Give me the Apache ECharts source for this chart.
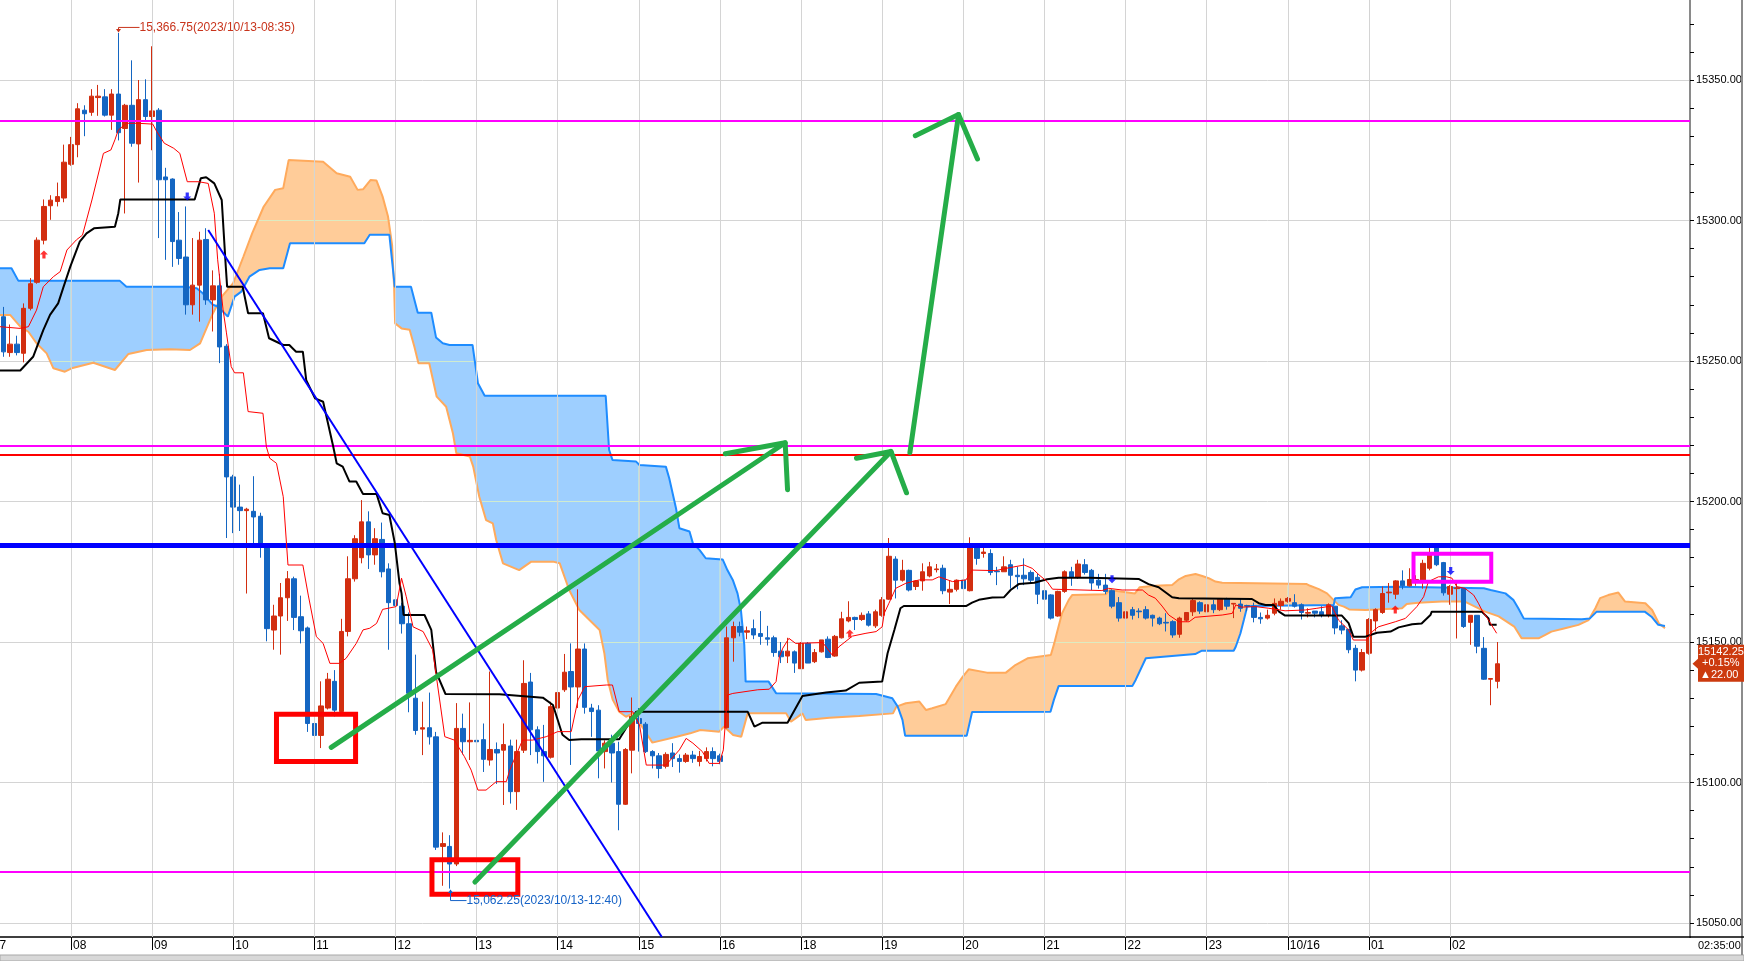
<!DOCTYPE html>
<html><head><meta charset="utf-8">
<script src="https://cdn.jsdelivr.net/npm/echarts@6/dist/echarts.min.js"></script>
<style>html,body{margin:0;padding:0;background:#fff;}#c{width:1744px;height:961px;}</style>
</head><body><div id="c"></div>
<script>
// ---------- axis / tick data ----------
const slotCount = 250;
const hourSlots  = [10,22,34,46,58,70,82,94,106,118,130,142,154,166,178,190,202,214];
const hourLabels = ['08','09','10','11','12','13','14','15','16','18','19','20','21','22','23','10/16','01','02'];
const prevHourSlot = -2, prevHourLabel = '07';
const lastTime = '02:35:00';

// ---------- 5-minute candles: [open, close, low, high] ----------
const candles = [
[15265.75,15253.25,15251.5,15269.25],[15253,15256,15251.5,15263],[15256,15253,15252,15259],[15252.75,15268.75,15249.5,15270.5],
[15268.75,15277.5,15268,15279.5],[15278,15293,15277.5,15294],[15293,15305,15291.5,15307.5],[15305.25,15307.25,15300.25,15309],
[15306.75,15308.5,15305,15313.5],[15308,15320.75,15306.5,15327],[15320,15327,15319.5,15329.75],[15327,15339.75,15322.5,15341.75],
[15339.25,15338,15330,15341],[15338.5,15344.25,15337.25,15346.75],[15343.75,15344.25,15337.25,15348.25],[15344,15337.5,15337,15346.75],
[15337.5,15345,15332.25,15346.75],[15345,15331.25,15328.5,15366.75],[15332.75,15341,15302.5,15341.5],[15341,15327.5,15326.25,15357],
[15327.25,15343,15313.5,15350],[15343,15337,15335.25,15350.25],[15337,15339,15325,15362],[15339.25,15314.5,15293.75,15340],
[15315.5,15314.5,15286,15318.75],[15314.75,15292.5,15283.5,15315],[15293,15286.5,15284.25,15303],[15287,15270,15266.5,15305],
[15270,15277,15266.5,15293.75],[15277,15293,15264,15296],[15293.25,15271.75,15270,15297.25],[15271.75,15276.75,15260.5,15282.25],
[15276.75,15255,15249.25,15281],[15255.25,15208.75,15187,15256],[15208.75,15198,15188.75,15209.5],[15198,15196.75,15189.5,15206],
[15196.75,15197.25,15167.25,15197.75],[15196.5,15194.5,15184,15209],[15194.75,15184,15180,15196],[15184,15154.75,15150.25,15185],
[15154.25,15159.25,15147.25,15163.25],[15159.25,15165.75,15145.5,15171],[15165.75,15172.5,15157.5,15175.25],[15172.5,15158.75,15154.25,15173.25],
[15159,15154,15149.5,15166.5],[15155,15121,15118,15155.5],[15121,15116.75,15109.25,15126.5],[15116.75,15127.25,15112.25,15136],
[15126.5,15136.75,15126,15139],[15136,15125.75,15123.5,15140],[15125.25,15153.75,15124.75,15158.25],[15153.75,15172.5,15152,15180.5],
[15172.5,15186.75,15171.5,15188],[15180,15192.75,15178,15200.5],[15192.75,15181,15176,15196.5],[15181,15186.75,15177.5,15190.5],
[15186.5,15175,15173,15192.5],[15176,15164,15147.25,15178],[15165,15163,15160,15168.5],[15162.75,15156.5,15153,15164],
[15156.5,15131.75,15125,15160.5],[15130,15118.5,15117,15145.5],[15119,15119.5,15109.75,15128.75],[15119.5,15116.25,15113.5,15132],
[15116.25,15077,15076,15118],[15077.25,15078.25,15063.25,15082.25],[15077.25,15071,15062.25,15081.25],[15071,15119.25,15070.25,15128.25],
[15119.25,15114.5,15110,15124.5],[15114.5,15115,15108,15128.5],[15115,15114.5,15105,15127],[15115.25,15108.25,15103.75,15121],
[15108,15111.75,15106,15139.5],[15111.75,15110.5,15099.5,15114.25],[15111.5,15113.5,15092,15121],[15113,15096.75,15092.5,15115.25],
[15096.75,15111,15090.25,15115.25],[15111.5,15135.25,15110.5,15143.5],[15135.75,15118.75,15109.75,15139],[15118.75,15111,15106.75,15120],
[15111,15109.5,15100.25,15120.5],[15109,15127,15108.5,15128.75],[15126.5,15132,15125.25,15140.5],[15133,15139.25,15132.25,15145.75],
[15139.5,15134,15106.25,15149.5],[15134,15147.5,15126.5,15168.75],[15147.5,15126.75,15124.5,15149.5],[15126.5,15125.25,15116.25,15128],
[15125.75,15111.25,15101.5,15127.5],[15111,15114,15105,15115],[15114,15110.5,15100,15117],[15111,15092.25,15083,15114.5],
[15092.25,15111.75,15092,15112.25],[15111.5,15123.5,15103.25,15130.25],[15122.75,15121,15111,15126.5],[15120.75,15111,15110.5,15121.5],
[15111,15109.5,15105,15111.5],[15109.5,15105,15101.5,15110.5],[15105.75,15110,15105,15110.75],[15110.5,15108.5,15105.5,15114],
[15108.5,15107.5,15103.5,15110],[15107.5,15109.75,15107,15110.5],[15109.75,15108.5,15107,15111.25],[15107.5,15109.25,15105.75,15111.25],
[15108.5,15111,15107.5,15112.5],[15111,15108.5,15105.75,15112.5],[15109.5,15107.5,15106.5,15110.25],[15119.5,15151.5,15119.25,15155.5],
[15151.5,15155.5,15143,15157.25],[15155.5,15153.5,15152,15157.25],[15153.5,15154,15151,15155.5],[15154.75,15152.5,15151,15158],
[15153,15152,15149,15161],[15151.5,15151,15148.75,15155.75],[15151.5,15146.25,15144.75,15152.25],[15146.75,15144.75,15142.5,15150],
[15145,15146.75,15142.5,15151.5],[15146.5,15142.5,15139,15147],[15140.5,15149.5,15140.5,15150],[15149.5,15142.5,15142.5,15150],
[15143,15146.25,15142.5,15147.5],[15146.5,15150.75,15146.25,15150.75],[15151,15144.5,15144.25,15152],[15145,15152,15144.75,15152.5],
[15151.5,15158.25,15151.25,15160.75],[15157.5,15158.75,15157,15164.5],[15158.75,15158,15154.25,15159],[15158,15159.5,15157.5,15160.5],
[15160,15156,15155.5,15161],[15155.75,15160.75,15155,15161.5],[15159.5,15165,15159,15166],[15165.25,15180.5,15165,15187],
[15179.5,15172,15165.5,15180.5],[15172,15175.5,15171.5,15179.25],[15175.5,15168.5,15168,15175.75],[15169.75,15171.75,15168.5,15172],
[15171.75,15175,15168.25,15178],[15173.5,15176.75,15173,15178.5],[15175.75,15176,15174.75,15177.75],[15176.25,15168.25,15167,15177.5],
[15167.75,15168.75,15163.5,15172],[15168.75,15172,15168,15172.25],[15172,15169,15165,15172.25],[15168.25,15184,15168,15187.25],
[15184,15179.75,15177.5,15184.5],[15181.5,15182,15180,15184.25],[15181.5,15174.75,15173.75,15183],[15175.25,15175,15170.25,15176.75],
[15175,15176.75,15175,15180.5],[15177.5,15173.75,15169,15179.25],[15173.75,15173.25,15168.75,15176.75],[15173.75,15172.5,15170.25,15179.75],
[15174.75,15172,15171,15175.5],[15173,15167,15163.5,15174.25],[15168.25,15165.25,15163,15168.75],[15166.75,15158.5,15158,15167],
[15159.25,15168,15159,15168.25],[15168,15175,15167.5,15175.5],[15175,15173,15170,15176.75],[15173,15177.75,15172.5,15179.25],
[15177.5,15174.75,15174,15179.5],[15175.5,15171,15168.5,15176],[15172,15170.25,15169,15174.25],[15170.25,15168,15167,15174.25],
[15168.25,15162.75,15162,15168.75],[15164,15158.5,15157.25,15166],[15158.5,15160.75,15158,15163.25],[15161.5,15159.5,15158,15162.5],
[15161,15160.75,15158.5,15162],[15161.5,15158.5,15158,15162.75],[15159.5,15158.5,15155.5,15159.75],[15158.5,15156.5,15156,15159],
[15157,15156.75,15153.75,15160.25],[15157.25,15152.5,15151.5,15157.75],[15152.75,15158.5,15151.5,15159],[15157.75,15160.5,15157.25,15160.5],
[15160.75,15164.75,15159.25,15165.5],[15164,15161,15160,15164.5],[15160.75,15163.25,15160.5,15163.5],[15163.25,15161.5,15160.25,15165],
[15161.5,15165.25,15161,15165.25],[15165.25,15162.75,15161.5,15165.75],[15163.5,15163.75,15158.5,15163.75],[15163.5,15162,15160.75,15165.5],
[15163,15162.75,15161,15163.25],[15162.75,15158.75,15157,15164],[15158.75,15158.25,15156.5,15160.5],[15158.5,15159.5,15158,15161.5],
[15160.25,15163.75,15159.5,15165.5],[15163,15164.5,15161.5,15165.5],[15164.5,15165.5,15164,15166],[15164,15162.75,15162.25,15167],
[15163.25,15160.5,15158,15163.75],[15160.25,15160.5,15158.75,15162],[15161,15160.25,15158.75,15161],[15160.75,15159.5,15158.75,15162.75],
[15159.5,15163.25,15158.75,15163.75],[15162.75,15155,15152.75,15162.75],[15155.75,15154.25,15152.75,15157.75],[15154.5,15147.25,15146,15154.5],
[15147.75,15140,15136,15149],[15140,15146.25,15139.5,15147.5],[15146,15158,15145.5,15158.5],[15157.5,15161.5,15153.75,15162],
[15160.5,15167.25,15160,15169.75],[15167.5,15167.75,15164,15171],[15167,15171.75,15165.25,15172],[15171.75,15170,15168.75,15175.5],
[15170,15172.25,15169.75,15176.25],[15171.5,15172.25,15170,15173.75],[15171.5,15178,15169,15179.25],[15176.25,15181.5,15175.5,15184],
[15184,15177.5,15177,15184.5],[15178.25,15167.5,15166.5,15178.5],[15167,15169.75,15163.25,15170.25],[15169,15169.25,15151.25,15171.5],
[15169,15155.5,15155,15169],[15157,15159.5,15149,15159.5],[15159.5,15148.5,15146,15159.5],[15147.75,15136.75,15136.5,15151.75],
[15136.75,15137,15127.5,15137],[15136,15142.25,15133.5,15150]
];

// ---------- Ichimoku lines, vertices [slot, price] ----------
const tenkan = [
[-0.5,15262.2],[2.5,15261.6],[3.7,15262.2],[4.9,15268.1],[5.9,15276.4],[7.4,15280],[8.4,15281.8],[9.4,15289.5],[10.8,15293.1],[11.7,15294.8],
[13.1,15307.3],[14.8,15323.9],[15.9,15325.1],[16.5,15328.7],[17,15332.2],[18.2,15334.6],[19.9,15334.6],[22.1,15334.3],[22.7,15331.6],[23.8,15327.5],
[25.2,15325.7],[26.1,15323.9],[27.2,15313.8],[28.9,15313.8],[30.3,15313.2],[31.2,15302.6],[31.7,15286],[32.5,15268.2],[33,15260],[33.7,15248],
[34.2,15245.8],[35.5,15245.8],[36.2,15232],[38.4,15231.4],[38.9,15219.5],[39.4,15215.4],[40.4,15213.6],[41.4,15201.7],[42.1,15177.4],[44.3,15177.4],
[45.1,15166.7],[46.3,15151.9],[47.3,15149.5],[48.3,15142.4],[49.7,15142.4],[50.7,15144.2],[52.2,15149.5],[53.2,15154.3],[54.2,15154.9],[55.2,15156.6],
[56.1,15161.6],[58.1,15162.6],[58.9,15172.7],[59.6,15166.1],[60.6,15155.4],[62.1,15153.7],[63.5,15147.2],[65.3,15116.3],[66.7,15115.1],[68.2,15109.2],
[69.2,15104.4],[70.2,15097.3],[71.4,15097.3],[72.9,15100.3],[74.4,15100.3],[74.9,15104.4],[76.8,15115.1],[78.3,15115.1],[80.3,15116.3],[82,15118.1],
[84,15118.1],[85,15129.4],[86,15134.1],[89.2,15134.7],[90.1,15134.7],[91.1,15125.2],[93.1,15125.2],[94.1,15120.5],[95.1,15106.2],[98,15106.2],
[100,15111.6],[101,15115.7],[102,15114],[103.4,15111],[104.4,15106.8],[105.9,15106.8],[106.5,15111.6],[107.1,15131.1],[107.9,15131.7],[111.6,15133],
[113.3,15133.2],[114.3,15135.9],[114.8,15144.8],[115.3,15147.8],[116.2,15151.3],[117.2,15149.5],[121.2,15149.8],[122.6,15145.4],[123.6,15148.3],[125.6,15152.1],
[127.6,15153.1],[129.1,15153.7],[130,15155.4],[130.3,15160.2],[131,15163.8],[132,15169.1],[133.5,15170.9],[135.5,15172.1],[137.4,15172.1],[138.4,15173.2],
[140.4,15171.5],[142.4,15172.1],[143.3,15175.6],[146.8,15175.4],[148.3,15176.2],[151,15177.4],[152.2,15176.2],[153.2,15173.9],[154.4,15171.5],[155.2,15168.8],
[162.5,15168.3],[163.5,15169.1],[165.5,15168.5],[168.5,15168.5],[169.4,15166.7],[170.4,15165.6],[171.4,15162.8],[172.4,15159.6],[173.9,15157.2],[175.4,15157.2],
[176.3,15158.8],[180.3,15159.6],[181.8,15160.2],[182.3,15163.2],[183.2,15162.4],[185.2,15162.6],[187.2,15162],[189.6,15161.1],[192.6,15161.4],[194.3,15162],
[196.5,15162.8],[197.5,15157.8],[199,15154.3],[199.7,15150.7],[201.7,15150.7],[202.5,15153.7],[203.4,15155.4],[205.9,15157.2],[207.4,15158.4],[209.1,15162.6],
[210.1,15166.1],[210.8,15171.5],[212.3,15173.2],[213.5,15173.2],[214.3,15172.7],[215,15169.7],[216.2,15169.1],[217.5,15166.7],[218.2,15163.8],[218.7,15161.4],
[219.7,15157.8],[220.9,15153.1]
];
const kijun = [
[-0.5,15246.6],[2.5,15246.6],[4.4,15251.5],[5.9,15261],[6.9,15266.4],[8.1,15270.5],[8.9,15276.4],[9.9,15283.6],[11.3,15292.5],[12.3,15295.4],
[13.4,15297.2],[16.5,15297.8],[17,15302.6],[17.3,15307.5],[28.3,15307.5],[29.2,15315],[30,15315.4],[31.2,15313.2],[32.3,15307.3],[32.9,15283.6],
[33.1,15276.4],[35.4,15276.4],[36.2,15267],[38.4,15267],[39.3,15258.1],[41.4,15255.7],[42.3,15255.7],[43.3,15253.3],[44.3,15253.3],[44.8,15243.2],
[46.1,15236.7],[47.3,15235.5],[48.8,15219.5],[49.3,15213.6],[50.2,15212.4],[51.2,15207.1],[52.2,15207.1],[53.2,15202.7],[55.2,15202.7],[56.1,15195.8],
[57.1,15195.2],[57.9,15185.2],[58.6,15170.9],[58.9,15167.3],[59.2,15159.6],[62.3,15159.6],[63.3,15154.3],[64,15139.4],[65.4,15131.5],[73.4,15131.4],
[79.8,15130.2],[81.3,15127.6],[82.7,15117],[83.7,15115.1],[85.5,15115.4],[91.1,15115.4],[93.6,15125.2],[110.1,15125.2],[111.1,15119.9],[112.3,15121.3],
[116,15121.3],[118.2,15130.8],[121.7,15132],[124.6,15132.7],[126.6,15135.5],[130,15135.9],[130.8,15146],[131.8,15154.3],[132.7,15162],[133.2,15162.8],
[142.4,15162.8],[143.3,15164],[144.3,15165],[146.3,15165.8],[148,15165.9],[149,15168.5],[150.2,15170.6],[152.5,15171.1],[154.4,15172.3],[156.1,15172.9],
[160.6,15172.9],[168,15172.4],[169.4,15170.6],[170.9,15169.5],[172.9,15165.9],[173.9,15165.6],[184.7,15165.3],[185.7,15163.8],[186.7,15163.2],[187.9,15163.2],
[188.7,15160.8],[189.6,15159.4],[198,15159.4],[199,15156.7],[199.7,15151.9],[201.5,15151.9],[203.2,15153.3],[205.2,15153.7],[206.4,15155.2],[208.4,15156.3],
[209.8,15156.6],[211.1,15159.6],[211.3,15160.8],[218.7,15160.8],[219.7,15158.4],[219.9,15156.1],[220.9,15156.1]
];
const spanBlue = [
[-0.5,15283],[1.2,15283],[2.2,15278.6],[17.2,15278.6],[18.2,15276.4],[26.8,15276.4],[28.6,15275.9],[29.5,15274.1],[31,15270],[31.8,15269.3],
[33.2,15265.8],[34.2,15272.9],[35.2,15274.7],[36.4,15280],[37.9,15282.4],[39.4,15283],[41.4,15283],[42.4,15291.9],[53.4,15291.9],[54.2,15294.9],
[57.1,15294.9],[57.9,15276.4],[60.3,15276.4],[61.3,15267.2],[63.3,15267.2],[64,15258.4],[65,15256.3],[66,15255.7],[69.4,15255.7],[70.2,15242.1],
[71.2,15237.6],[89.1,15237.6],[89.6,15218.4],[90.1,15214.8],[93.6,15214.2],[94.1,15213],[98,15212.4],[98.5,15208.3],[99.5,15197.6],[100,15190.5],
[101.5,15189.3],[102,15185.1],[103,15182.7],[103.9,15179.8],[106.4,15179.4],[107.1,15175.6],[107.9,15172.1],[108.6,15167.3],[109.1,15161.4],[109.6,15149],
[109.8,15135.9],[113.2,15135.9],[114.3,15131.8],[129.1,15131.5],[131.5,15130],[132.3,15127],[133,15122.3],[133.4,15116.6],[142.5,15116.6],[143.3,15125.1],
[154.9,15125.2],[155.4,15129.4],[156.1,15134.3],[167,15134.3],[167.5,15136.5],[169,15144.2],[176.3,15145.7],[177.3,15146.9],[182,15146.9],[182.3,15148.3],
[183,15153.1],[183.5,15157.8],[184,15162.6],[184.7,15162.8],[196.8,15163.2],[197,15165.6],[199.3,15165.9],[200,15168.7],[201,15169.5],[206.4,15169.7],
[219,15169.1],[220,15168.5],[222.2,15167.3],[223.4,15164.9],[224.1,15162],[224.9,15158.4],[233.5,15158.1],[234.7,15158.4],[235.7,15160.8],[242.8,15160.8],
[243.8,15159],[244.8,15156.1],[245.8,15155.7]
];
const spanOrange = [
[-0.5,15266.4],[1,15266.4],[2.5,15262.2],[3.7,15260.4],[4.9,15256.3],[6.4,15252.7],[7.4,15247.4],[9.1,15246.2],[10.1,15247.4],[13.3,15249.4],
[16.5,15246.8],[18.5,15252.5],[21.2,15253.9],[24.6,15254.2],[27.6,15253.9],[29.1,15256.3],[31,15267],[32.3,15272.9],[34,15277.7],[35.5,15287.1],
[36.8,15295.4],[38.5,15304.9],[40.2,15310.9],[41.4,15311.5],[42.2,15321.5],[47.3,15320.9],[49.3,15316.8],[51.3,15315.6],[52.4,15310.9],[53.2,15311.1],
[54.3,15314.4],[55.2,15314.2],[56.1,15308.5],[56.9,15301.4],[57.5,15291.3],[57.8,15276.4],[57.95,15263.4],[58.9,15261.6],[60.1,15261.1],[60.8,15255.1],
[61.4,15249.2],[63,15249.2],[64.1,15237.3],[65.5,15233.7],[66.5,15224.3],[67,15217.2],[69,15216],[69.5,15212.4],[70.4,15201.7],[71.4,15193.4],
[72.4,15192.2],[72.9,15186.3],[73.9,15178],[76.3,15175.6],[78.1,15178.6],[81.3,15178.6],[82.3,15178],[83.7,15168.5],[85.2,15161.4],[86.7,15157.8],
[88.2,15154.3],[88.9,15146],[89.4,15136.5],[90.15,15129.4],[91.1,15125.2],[92.1,15123.4],[93.1,15124.6],[94.15,15121.1],[96,15114.2],[99.6,15116.3],
[101.6,15117.5],[103.1,15118.7],[105.9,15118.1],[106.6,15119.9],[107.95,15116.9],[109.15,15116.3],[110.1,15124.6],[115.8,15124.6],[116.5,15121.6],[117.7,15123.7],
[118.2,15124.6],[118.7,15122.2],[122.2,15123],[126.6,15123.7],[131.6,15124.6],[132.1,15127],[133.5,15128.2],[135.5,15128.8],[136.5,15125.8],[137.4,15126.4],
[139.4,15127.9],[140.9,15134.1],[141.9,15137.6],[142.8,15140.3],[145.5,15139.1],[148.3,15139.1],[149.7,15141.8],[151.5,15144.2],[154.95,15145.4],[155.45,15149.5],
[155.9,15153.7],[156.6,15160.2],[157.6,15165],[158.1,15166.7],[163.1,15167],[163.6,15168.5],[167.4,15167.3],[168.1,15169.5],[170.4,15170],[172.9,15170.3],
[173.9,15172.3],[174.9,15173.5],[176.35,15174.2],[177.35,15173.5],[178.3,15172.7],[179.3,15171.5],[180.3,15171.1],[192.8,15170.6],[193.3,15170],[194.6,15168.8],
[195.8,15167.3],[196.5,15165.6],[197.5,15163.2],[198.3,15162.6],[199.1,15161.6],[201.5,15161.4],[206.9,15162],[207.6,15163.5],[209.3,15164],[212.8,15164.4],
[216.2,15164.4],[219.2,15160.8],[221.2,15159.1],[223.5,15155.5],[224.6,15151.3],[227.1,15151.3],[228.1,15152.5],[229,15153.7],[231,15154.9],[233,15156.1],
[234.5,15157.8],[235.5,15162],[236.2,15165.6],[237.4,15166.7],[238.9,15167.6],[239.9,15164.4],[242.9,15163.8],[243.9,15161.4],[244.9,15156.6],[245.8,15154.9]
];

// ---------- drawn levels / annotations (data coordinates) ----------
const magentaLevels = [15335.5, 15219.75, 15068.25];
const redLevels = [15216.75];
const blueLevels = [15184.5];
const axisFloorPrice = 15045;
const trendLine = [[30.3,15296.6],[97.4,15045]];
const arrowFrom  = [[48.5,15112.5],[69.75,15064.6],[134.1,15217.4]];
const arrowTip   = [[115.65,15220.9],[131.3,15217.8],[141.3,15337.7]];
const arrowHeadL = [[106.8,15217.0],[126.2,15215.4],[134.9,15330.2]];
const arrowHeadR = [[116.0,15204.2],[133.6,15203.1],[144.1,15321.9]];
const redBoxes = [[40.4,15124.3,52.1,15107.5],[63.4,15072.5,76.1,15060.2]];
const magentaBoxes = [[208.6,15181.4,220.1,15171.4]];
const signalUp = [[6,15287.9],[125.2,15153.0],[205.9,15161.6]];
const signalDown = [[27.2,15308.5],[164,15172.3],[214.1,15175.3]];
const extremes = [[17,15366.75,1],[66,15062.25,-1]];
const extremeTexts = ['15,366.75(2023/10/13-08:35)','15,062.25(2023/10/13-12:40)'];
const lastClose = 15142.25;
const changeAbs = 22.00;
const changePct = 0.15;

// ---------- axis range ----------
const Y_MIN = 15000, Y_MAX = 15400, Y_STEP = 50;

// ---------- styles ----------
const RED = '#D22E10', BLUE = '#1466C2';
const CLOUD_BLUE = '#9ECFFF', CLOUD_ORANGE = '#FFCC99';
const LINE_BLUE = '#1E8CFF', LINE_ORANGE = '#FFAA5C';
const GRID = '#d4d4d4', GRID_IN_CLOUD = 'rgba(215,240,200,0.85)';
const GREEN = '#25AD48';
const FONT = "'Liberation Sans', Arial, sans-serif";

const chart = echarts.init(document.getElementById('c'), null, {renderer:'canvas', width:1744, height:961});
const cats = Array.from({length: slotCount}, (_, i) => String(i));
const labelOf = {};
hourSlots.forEach((s, i) => { labelOf[s] = hourLabels[i]; });

function cloudRender(params, api) {
  const A = spanBlue.map(p => api.coord(p));
  const B = spanOrange.map(p => api.coord(p));
  const at = (P, x) => {
    if (x <= P[0][0]) return P[0][1];
    for (let i = 1; i < P.length; i++) {
      if (x <= P[i][0]) {
        const x0 = P[i-1][0], y0 = P[i-1][1], x1 = P[i][0], y1 = P[i][1];
        return x1 === x0 ? y1 : y0 + (x - x0) / (x1 - x0) * (y1 - y0);
      }
    }
    return P[P.length-1][1];
  };
  const lo = Math.max(A[0][0], B[0][0]);
  const hi = Math.min(A[A.length-1][0], B[B.length-1][0]);
  const xs = Array.from(new Set(A.concat(B).map(p => p[0]))).filter(x => x >= lo && x <= hi).sort((a, b) => a - b);
  const pts = [];
  xs.forEach(x => {
    const cur = [x, at(A, x), at(B, x)];
    const prev = pts[pts.length-1];
    if (prev) {
      const d0 = prev[1] - prev[2], d1 = cur[1] - cur[2];
      if (d0 * d1 < 0) {
        const t = d0 / (d0 - d1);
        const xc = prev[0] + t * (cur[0] - prev[0]);
        const yc = prev[1] + t * (cur[1] - prev[1]);
        pts.push([xc, yc, yc]);
      }
    }
    pts.push(cur);
  });
  const children = [];
  let run = [], sign = 0;
  const flush = () => {
    if (run.length < 2) return;
    const poly = run.map(p => [p[0], p[1]]).concat(run.slice().reverse().map(p => [p[0], p[2]]));
    children.push({type:'polygon', shape:{points: poly}, style:{fill: sign < 0 ? CLOUD_BLUE : CLOUD_ORANGE}});
  };
  pts.forEach(p => {
    const d = p[1] - p[2];
    const s = d < -1e-6 ? -1 : (d > 1e-6 ? 1 : 0);
    if (s !== 0 && sign !== 0 && s !== sign) { flush(); run = [run[run.length-1]]; }
    if (s !== 0) sign = s;
    run.push(p);
  });
  flush();

  // faint grid lines showing through the cloud
  const gst = {stroke: GRID_IN_CLOUD, lineWidth: 1};
  hourSlots.forEach(s => {
    const x = api.coord([s, Y_MIN])[0];
    if (x < lo || x > hi) return;
    const ya = at(A, x), yb = at(B, x);
    if (Math.abs(ya - yb) < 3) return;
    children.push({type:'line', shape:{x1:x, y1:Math.min(ya, yb) + 1.5, x2:x, y2:Math.max(ya, yb) - 1.5}, style: gst});
  });
  for (let v = Y_MIN; v <= Y_MAX; v += Y_STEP) {
    const y = Math.round(api.coord([0, v])[1] - 0.5) + 0.5;
    let start = null;
    for (let x = Math.ceil(lo); x <= hi; x += 1) {
      const ya = at(A, x), yb = at(B, x);
      const inside = y > Math.min(ya, yb) + 1.5 && y < Math.max(ya, yb) - 1.5;
      if (inside && start === null) start = x;
      if ((!inside || x + 1 > hi) && start !== null) {
        if (x - start > 1) children.push({type:'line', shape:{x1:start, y1:y, x2:x, y2:y}, style: gst});
        start = null;
      }
    }
  }
  return {type:'group', children};
}

function boxRender(color, width) {
  return function (params, api) {
    const p0 = api.coord([api.value(0), api.value(1)]);
    const p1 = api.coord([api.value(2), api.value(3)]);
    return {type:'rect', shape:{x: Math.min(p0[0], p1[0]), y: Math.min(p0[1], p1[1]),
      width: Math.abs(p1[0] - p0[0]), height: Math.abs(p1[1] - p0[1])},
      style:{fill:'none', stroke: color, lineWidth: width}};
  };
}

function arrowRender(params, api) {
  const i = params.dataIndex;
  const c = p => api.coord(p);
  const st = {stroke: GREEN, lineWidth: 5, fill: null, lineCap: 'round', lineJoin: 'round'};
  return {type:'group', children:[
    {type:'polyline', shape:{points:[c(arrowFrom[i]), c(arrowTip[i])]}, style: st},
    {type:'polyline', shape:{points:[c(arrowHeadL[i]), c(arrowTip[i]), c(arrowHeadR[i])]}, style: st}
  ]};
}

function extremeRender(params, api) {
  const i = params.dataIndex;
  const e = extremes[i];
  const p = api.coord([e[0], e[1]]);
  const x = Math.round(p[0]) + 0.5;
  const color = e[2] > 0 ? '#C8341C' : '#1562C6';
  if (e[2] > 0) {
    const tip = p[1] - 0.5, ly = p[1] - 5.5;
    return {type:'group', children:[
      {type:'polygon', shape:{points:[[x-2.5, tip-3.5],[x+2.5, tip-3.5],[x, tip]]}, style:{fill: color}},
      {type:'polyline', shape:{points:[[x, tip-3],[x, ly],[x+21, ly]]}, style:{stroke: color, lineWidth:1, fill:null}},
      {type:'text', x: x+21, y: ly, style:{text: extremeTexts[i], fill: color, font: '12px ' + FONT, verticalAlign:'middle', align:'left'}}
    ]};
  }
  const tip = p[1] + 1, ly = p[1] + 12;
  return {type:'group', children:[
    {type:'polygon', shape:{points:[[x-2.5, tip+3.5],[x+2.5, tip+3.5],[x, tip]]}, style:{fill: color}},
    {type:'polyline', shape:{points:[[x, tip+3],[x, ly],[x+16, ly]]}, style:{stroke: color, lineWidth:1, fill:null}},
    {type:'text', x: x+16, y: ly, style:{text: extremeTexts[i], fill: color, font: '12px ' + FONT, verticalAlign:'middle', align:'left'}}
  ]};
}

const lineSeries = (data, color, width, z) => ({
  type:'line', xAxisIndex:1, yAxisIndex:0, data, showSymbol:false, symbol:'none', silent:true,
  lineStyle:{color, width}, z, animation:false
});
const levelLine = (v, color, width) => ({yAxis: v, lineStyle:{color, width, type:'solid'}});

const option = {
  animation: false,
  backgroundColor: '#ffffff',
  grid: {left: 0, right: 54, top: -60.5, bottom: -102.5, containLabel: false, outerBoundsMode: 'none'},
  xAxis: [
    {type:'category', data: cats, boundaryGap: true, position:'bottom', offset: -126.5,
     axisLine:{show:true, onZero:false, lineStyle:{color:'#000', width:1.5}},
     axisTick:{show:true, alignWithLabel:true, length:13, interval:(i) => labelOf[i] !== undefined, lineStyle:{color:'#000'}},
     axisLabel:{show:true, interval:(i) => labelOf[i] !== undefined, formatter:(v) => labelOf[+v] || '',
       align:'left', margin:3, padding:[0,0,0,2], color:'#000', fontSize:12, fontFamily: FONT},
     splitLine:{show:false}},
    {type:'value', min:-0.5, max: slotCount - 0.5, show:false}
  ],
  yAxis: [
    {type:'value', position:'right', min:Y_MIN, max:Y_MAX, interval:Y_STEP,
     axisLine:{show:true, onZero:false, lineStyle:{color:'#8a8a8a', width:2}},
     axisTick:{show:true, length:4, lineStyle:{color:'#000'}},
     minorTick:{show:true, splitNumber:5, length:4, lineStyle:{color:'#000'}},
     axisLabel:{formatter:(v) => v.toFixed(2), color:'#000', fontSize:11, fontFamily: FONT, margin:6},
     splitLine:{show:true, lineStyle:{color: GRID, width:1}},
     minorSplitLine:{show:false}}
  ],
  series: [
    {type:'line', xAxisIndex:1, yAxisIndex:0, data:[], z:1, silent:true,
     markLine:{silent:true, symbol:'none', label:{show:false}, animation:false,
       lineStyle:{color: GRID, width:1, type:'solid'},
       data: hourSlots.map(s => [{coord:[s, axisFloorPrice]}, {coord:[s, Y_MAX]}])}},
    {type:'custom', xAxisIndex:1, yAxisIndex:0, data:[[0, 15200]], renderItem: cloudRender, z:2, silent:true, clip:true},
    lineSeries(spanOrange, LINE_ORANGE, 2, 3),
    lineSeries(spanBlue, LINE_BLUE, 2, 3),
    {type:'candlestick', xAxisIndex:0, yAxisIndex:0, data: candles, barWidth:5, z:4, silent:true,
     itemStyle:{color: RED, color0: BLUE, borderColor: RED, borderColor0: BLUE, borderWidth:1}},
    lineSeries(kijun, '#000000', 2, 5),
    lineSeries(tenkan, '#FF0000', 1, 5),
    {type:'line', xAxisIndex:1, yAxisIndex:0, data:[], z:6, silent:true,
     markLine:{silent:true, symbol:'none', label:{show:false}, animation:false,
       data: magentaLevels.map(v => levelLine(v, '#FF00FF', 2))
         .concat(redLevels.map(v => levelLine(v, '#FF0000', 2)))
         .concat(blueLevels.map(v => levelLine(v, '#0000FF', 5)))}},
    lineSeries(trendLine, '#0000FF', 2, 7),
    {type:'custom', xAxisIndex:1, yAxisIndex:0, data: redBoxes, renderItem: boxRender('#FF0000', 5), z:8, silent:true, clip:false},
    {type:'custom', xAxisIndex:1, yAxisIndex:0, data: magentaBoxes, renderItem: boxRender('#FF00FF', 4), z:8, silent:true, clip:false},
    {type:'custom', xAxisIndex:1, yAxisIndex:0, data: arrowFrom, renderItem: arrowRender, z:9, silent:true, clip:false},
    {type:'scatter', xAxisIndex:1, yAxisIndex:0, data: signalUp, z:10, silent:true,
     symbol:'path://M5,0 L10,5 L7,5 L7,10 L3,10 L3,5 L0,5 Z', symbolSize:[8,8], itemStyle:{color:'#FF0000'}},
    {type:'scatter', xAxisIndex:1, yAxisIndex:0, data: signalDown, z:10, silent:true,
     symbol:'path://M3,0 L7,0 L7,5 L10,5 L5,10 L0,5 L3,5 Z', symbolSize:[8,8], itemStyle:{color:'#0000FF'}},
    {type:'custom', xAxisIndex:1, yAxisIndex:0, data: extremes.map(e => [e[0], e[1]]), renderItem: extremeRender, z:10, silent:true, clip:false}
  ]
};
chart.setOption(option);

// price tag and frame decorations
const yLast = chart.convertToPixel({yAxisIndex:0}, lastClose);
const xAxisY = chart.convertToPixel({yAxisIndex:0}, axisFloorPrice);
const yRight = chart.convertToPixel({xAxisIndex:1}, slotCount - 0.5);
const xPrev = chart.convertToPixel({xAxisIndex:1}, prevHourSlot);
chart.setOption({
  graphic: [
    {type:'text', z:101, x: xPrev + 3, y: xAxisY + 3, style:{text: prevHourLabel, fill:'#000', font:'12px ' + FONT, verticalAlign:'top'}},
    {type:'rect', z:100, shape:{x: yRight - 4, y: xAxisY + 1, width: 1744 - yRight + 4, height: 960 - xAxisY}, style:{fill:'#ffffff'}},
    {type:'line', z:101, shape:{x1: yRight, y1: xAxisY, x2: 1744, y2: xAxisY}, style:{stroke:'#000', lineWidth:1.5}},
    {type:'text', z:101, x: yRight + 8, y: xAxisY + 9, style:{text: lastTime, fill:'#000', font:'11px ' + FONT, verticalAlign:'middle'}},
    {type:'rect', z:100, shape:{x:0, y:955, width:1744, height:6}, style:{fill:'#d8d8d8', stroke:'#a8a8a8', lineWidth:1}},
    {type:'line', z:100, shape:{x1:1742, y1:0, x2:1742, y2:955}, style:{stroke:'#8c8c8c', lineWidth:2}},
    {type:'polygon', z:102, shape:{points:[[yRight + 2.5, yLast],[yRight + 8, yLast - 5],[yRight + 8, yLast - 19],[1744, yLast - 19],[1744, yLast + 18],[yRight + 8, yLast + 18],[yRight + 8, yLast + 5]]},
      style:{fill:'#CC3A0E'}},
    {type:'text', z:103, x: yRight + 8, y: yLast - 12, style:{text: lastClose.toFixed(2), fill:'#fff', font:'11px ' + FONT, verticalAlign:'middle'}},
    {type:'text', z:103, x: yRight + 12, y: yLast - 0.5, style:{text: '+' + changePct.toFixed(2) + '%', fill:'#fff', font:'11px ' + FONT, verticalAlign:'middle'}},
    {type:'text', z:103, x: yRight + 10, y: yLast + 11, style:{text: '\u25B2' + changeAbs.toFixed(2), fill:'#fff', font:'11px ' + FONT, verticalAlign:'middle'}}
  ]
});
</script>
</body></html>
